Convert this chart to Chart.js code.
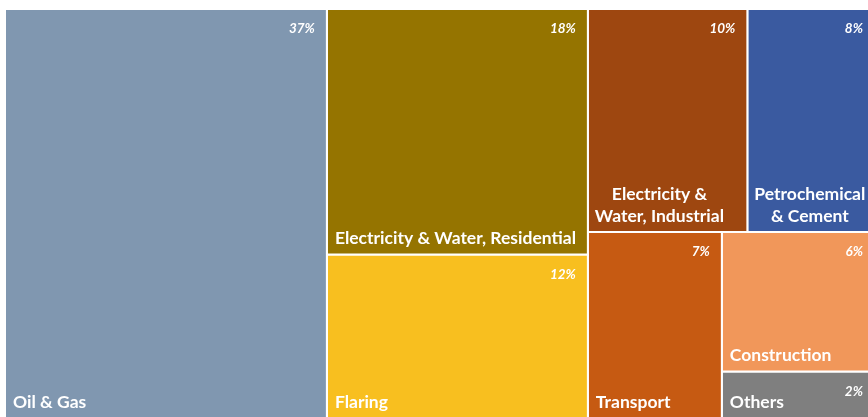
<!DOCTYPE html>
<html>
<head>
<meta charset="utf-8">
<script src="https://cdn.jsdelivr.net/npm/chart.js@4/dist/chart.umd.min.js"></script>
<style>
html,body{margin:0;padding:0;background:#fff;}
#wrap{width:868px;height:417px;position:relative;}
</style>
</head>
<body>
<div id="wrap"><canvas id="c"></canvas></div>
<script>
// ---- data ----
const sectors = ['Oil & Gas','Electricity & Water, Residential','Flaring','Electricity & Water, Industrial','Petrochemical & Cement','Transport','Construction','Others'];
const labelLines = [['Oil & Gas'],['Electricity & Water, Residential'],['Flaring'],['Electricity &','Water, Industrial'],['Petrochemical','& Cement'],['Transport'],['Construction'],['Others']];
const shares = [37,18,12,10,8,7,6,2];
const colors = ['#8097B0','#957400','#F8BF1F','#9E4710','#3A5AA0','#C65A12','#F1975A','#7F7F7F'];

// ---- treemap layout (slice & dice by share) ----
const tree = {dir:'h', kids:[0, {dir:'v', kids:[1,2]}, {dir:'v', kids:[{dir:'h', kids:[3,4]}, {dir:'h', kids:[5, {dir:'v', kids:[6,7]}]}]}]};
function total(n){ return typeof n === 'number' ? shares[n] : n.kids.reduce((s,k)=>s+total(k),0); }
const cells = [];
function layout(n, x0, y0, x1, y1){
  if (typeof n === 'number'){ cells[n] = {x0,y0,x1,y1}; return; }
  const t = total(n); let pos = n.dir==='h' ? x0 : y0;
  n.kids.forEach(k=>{
    const f = total(k)/t;
    if (n.dir==='h'){ const w=(x1-x0)*f; layout(k,pos,y0,pos+w,y1); pos+=w; }
    else { const h=(y1-y0)*f; layout(k,x0,pos,x1,pos+h); pos+=h; }
  });
}
layout(tree, 0, 0, 100, 100);

const datasets = sectors.map((s,i)=>{
  const c = cells[i];
  return {
    label: s,
    data: [{x:c.x0,y:c.y0},{x:c.x1,y:c.y0},{x:c.x1,y:c.y1},{x:c.x0,y:c.y1},{x:c.x0,y:c.y0}],
    showLine: true, fill: 'shape', tension: 0,
    backgroundColor: colors[i], borderColor: '#ffffff', borderWidth: 2,
    pointRadius: 0, pointHoverRadius: 0
  };
});

const FONT = 'Lato, "Open Sans", sans-serif';
const labelPlugin = {
  id: 'tmLabels',
  afterDatasetsDraw(chart){
    const {ctx, scales:{x,y}} = chart;
    ctx.save();
    ctx.fillStyle = '#ffffff';
    sectors.forEach((s,i)=>{
      const c = cells[i];
      const px0 = x.getPixelForValue(c.x0), px1 = x.getPixelForValue(c.x1);
      const py0 = y.getPixelForValue(c.y0), py1 = y.getPixelForValue(c.y1);
      // percent label
      ctx.font = 'italic bold 13.5px ' + FONT;
      ctx.textAlign = 'right'; ctx.textBaseline = 'middle';
      ctx.fillText(shares[i] + '%', px1 - 12, py0 + 20);
      // name label
      ctx.font = 'bold 17.5px ' + FONT;
      const lines = labelLines[i];
      const maxW = Math.max(...lines.map(l=>ctx.measureText(l).width));
      const lh = 22;
      const bottom = Math.min(py1, chart.chartArea.bottom + 1);
      lines.forEach((l,j)=>{
        const ly = bottom - 16 - (lines.length-1-j)*lh;
        if (lines.length>1){ ctx.textAlign='center'; ctx.fillText(l, px0 + 7 + maxW/2, ly); }
        else { ctx.textAlign='left'; ctx.fillText(l, px0 + 8, ly); }
      });
    });
    ctx.restore();
  }
};

new Chart(document.getElementById('c'), {
  type: 'scatter',
  data: { datasets },
  options: {
    responsive: true, maintainAspectRatio: false, animation: false,
    layout: { padding: { left: 5, top: 9, right: 0, bottom: 0 } },
    plugins: { legend: {display:false}, tooltip: {enabled:false} },
    scales: {
      x: { type:'linear', min:0, max:99.2, display:false },
      y: { type:'linear', min:0, max:99.75, reverse:true, display:false }
    }
  },
  plugins: [labelPlugin]
});
</script>
</body>
</html>
